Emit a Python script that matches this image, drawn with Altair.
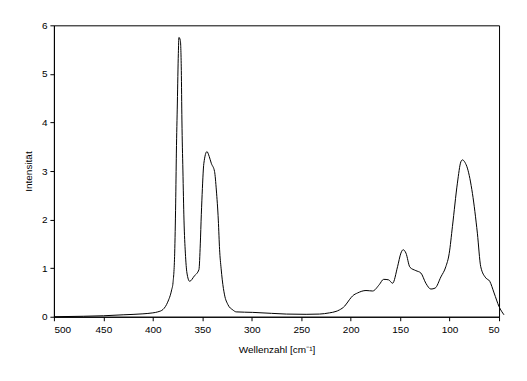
import altair as alt
import pandas as pd

wellenzahl = [500, 470, 450, 430, 410, 400, 395, 389.7, 385, 381, 379.6, 377.9, 376.9,
              376.2, 375.2, 374.2, 373.6, 372.2, 371.2, 370.6, 369.6, 368.5, 367.1,
              365.5, 362.8, 358, 353.4, 352, 351, 350.4, 348.4, 345.3, 343, 340.9,
              337.6, 335.8, 333.8, 332.5, 331, 329.8, 327.5, 324.1, 319.1, 315.7, 299, 280,
              265, 245, 231.6, 221.5, 214.8, 211.4, 206, 201.3, 198, 193, 184.5, 177.8,
              171.1, 166.7, 161.7, 157.6, 152.6, 149.2, 146.9, 144.1, 140.1, 134.1, 129,
              124, 118.9, 114.6, 108.8, 103.8, 100.4, 97.1, 92.1, 88.6, 87, 84.5, 82, 76.9,
              71.9, 68.5, 63.4, 59.4, 55, 50, 45]
intensitaet = [0.0, 0.01, 0.02, 0.04, 0.06, 0.08, 0.10, 0.15, 0.30, 0.55, 0.70, 1.31, 2.34,
               3.37, 4.4, 5.42, 5.75, 5.69, 5.07, 4.05, 3.02, 1.99, 1.31,
               0.90, 0.73, 0.84, 0.97, 1.5, 2.1, 2.4, 3.16, 3.40, 3.30, 3.16,
               2.99, 2.61, 1.99, 1.38, 1.0, 0.76, 0.45, 0.25, 0.14, 0.10, 0.09, 0.07,
               0.055, 0.05, 0.055, 0.08, 0.11, 0.14, 0.22, 0.35, 0.43, 0.49, 0.54, 0.53,
               0.66, 0.77, 0.76, 0.69, 1.03, 1.31, 1.38, 1.31, 1.02, 0.95, 0.90,
               0.69, 0.57, 0.59, 0.82, 1.03, 1.30, 1.86, 2.75, 3.19, 3.23, 3.18, 3.06, 2.54,
               1.72, 1.03, 0.80, 0.73, 0.49, 0.21, 0.04]

x_ticks = [500, 450, 400, 350, 300, 250, 200, 150, 100, 50]
y_ticks = [0, 1, 2, 3, 4, 5, 6]

df = pd.DataFrame({"w": wellenzahl, "i": intensitaet, "o": list(range(len(wellenzahl)))})

FONT = "Liberation Sans"

chart = alt.Chart(df).mark_line(color="black", strokeWidth=1, interpolate="monotone").encode(
    x=alt.X("w:Q",
            scale=alt.Scale(domain=[500, 50], nice=False, zero=False),
            axis=alt.Axis(values=x_ticks, title="Wellenzahl [cm⁻¹]", grid=False,
                          tickSize=4, labelPadding=4, titlePadding=10, format="d")),
    y=alt.Y("i:Q",
            scale=alt.Scale(domain=[0, 6], nice=False),
            axis=alt.Axis(values=y_ticks, title="Intensität", grid=False,
                          tickSize=4, labelPadding=3, titlePadding=8)),
    order="o:Q",
).properties(
    width=446, height=292,
    autosize=alt.AutoSizeParams(type="none"),
    padding={"left": 46, "top": 17, "right": 20, "bottom": 50},
    background="white",
).configure_view(
    stroke="black", strokeWidth=1
).configure_axis(
    domainColor="black", tickColor="black", labelColor="black", titleColor="black",
    labelFont=FONT, titleFont=FONT, labelFontSize=10, titleFontSize=10,
    titleFontWeight="normal", domainWidth=1, tickWidth=1,
)

chart.save("out.html", embed_options={"renderer": "svg", "actions": False})
